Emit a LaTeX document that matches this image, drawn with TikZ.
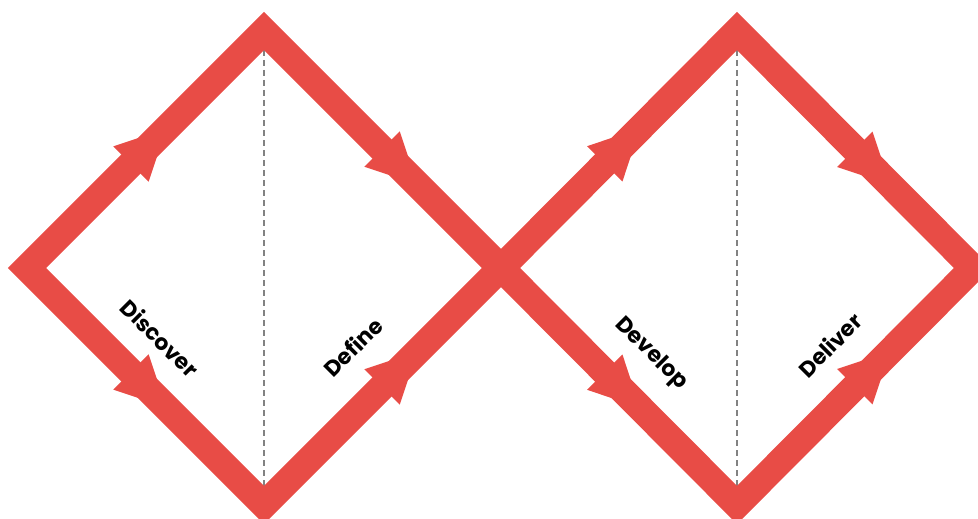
\documentclass[tikz,border=0pt]{standalone}
\usepackage{fontspec}
\setmainfont{Poppins}[BoldFont={* Bold}]
\usetikzlibrary{decorations.markings}
\definecolor{ddred}{RGB}{232,76,70}
\definecolor{ddgray}{RGB}{130,130,130}
\tikzset{
  edgeline/.style={draw=ddred, line width=27pt, line join=miter, miter limit=10},
  midline/.style={draw=ddgray, line width=1.6pt, dash pattern=on 6pt off 4pt},
  phase/.style={font=\bfseries\fontsize{22}{26}\selectfont, text=black, inner sep=0pt},
  arrowat/.style={postaction={decorate, decoration={markings,
      mark=at position #1 with {\fill[ddred] (0pt,25pt) -- (50pt,0pt) -- (0pt,-25pt) -- cycle;}}}}
}
\begin{document}
\begin{tikzpicture}[x=1pt,y=-1pt]
\useasboundingbox (0,0) rectangle (978,519);
% vertices
\coordinate (L1) at (27,268);
\coordinate (T1) at (264,31);
\coordinate (B1) at (264,505);
\coordinate (C)  at (501,268);
\coordinate (T2) at (737,31);
\coordinate (B2) at (737,505);
\coordinate (R2) at (973,268);
\coordinate (T1i) at (264,50);
\coordinate (B1i) at (264,486);
\coordinate (T2i) at (737,50);
\coordinate (B2i) at (737,486);
% dashed middle lines
\draw[midline] (T1i) -- (B1i);
\draw[midline] (T2i) -- (B2i);
% diamonds
\draw[edgeline] (L1) -- (T1) -- (C) -- (B1) -- cycle;
\draw[edgeline] (C) -- (T2) -- (R2) -- (B2) -- cycle;
% arrows (helper paths along the edges)
\path[arrowat=147pt] (L1) -- (T1);
\path[arrowat=167pt] (T1) -- (C);
\path[arrowat=147pt] (L1) -- (B1);
\path[arrowat=167pt] (B1) -- (C);
\path[arrowat=147pt] (C) -- (T2);
\path[arrowat=167pt] (T2) -- (R2);
\path[arrowat=147pt] (C) -- (B2);
\path[arrowat=167pt] (B2) -- (R2);
% labels
\node[phase, rotate=-45] (discover) at (160,338) {Discover};
\node[phase, rotate=45]  (define)   at (353,347) {Define};
\node[phase, rotate=-45] (develop)  at (651,354) {Develop};
\node[phase, rotate=45]  (deliver)  at (830,345) {Deliver};
\end{tikzpicture}
\end{document}
